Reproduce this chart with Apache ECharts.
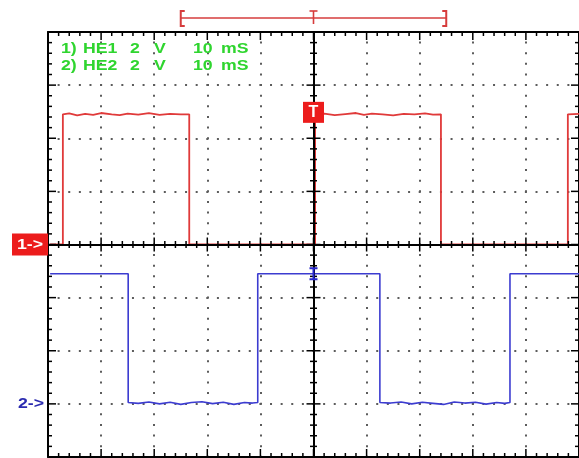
<!DOCTYPE html>
<html>
<head>
<meta charset="utf-8">
<script src="https://cdn.jsdelivr.net/npm/echarts@6/dist/echarts.min.js"></script>
<style>
  html, body { margin: 0; padding: 0; background: #ffffff; }
  #scope { width: 579px; height: 458px; }
</style>
</head>
<body>
<div id="scope"></div>
<script>
// Time base: milliseconds relative to the trigger point, 10 divisions of 10 ms
const timeWindow = [-50, 50];
const timePerDiv = 10;
// Vertical scale: 2 V per division, 8 divisions
const ch1Range = [-8, 8];      // channel 1 reference at screen centre
const ch2Range = [-2, 14];     // channel 2 reference one division above the bottom
const voltsPerDiv = 2;
const subDivisions = 5;

// Channel 1 (HE1) trace
const ch1Time = [-49.6, -47.2, -47.2, -46, -44.5, -43, -41.5, -40, -38, -36.5, -35, -33, -31, -29, -27, -25, -23.4, -23.4,
                 0.3, 0.3, 2, 4, 6, 8, 9.5, 11, 13, 15, 17, 19, 21, 22.5, 24.0, 24.0, 47.9, 47.9, 50];
const ch1Volt = [0, 0, 4.9, 4.94, 4.86, 4.92, 4.88, 4.95, 4.9, 4.87, 4.93, 4.89, 4.95, 4.88, 4.92, 4.9, 4.9, 0,
                 0, 4.9, 4.93, 4.87, 4.91, 4.95, 4.88, 4.93, 4.9, 4.86, 4.92, 4.9, 4.94, 4.89, 4.9, 0, 0, 4.9, 4.92];

// Channel 2 (HE2) trace
const ch2Time = [-49.6, -34.9, -34.9, -33, -31, -29, -27, -25, -23, -21, -19, -17, -15, -13, -11.5, -10.5, -10.5,
                 12.5, 12.5, 14.5, 16.5, 18.5, 20.5, 22.5, 24.5, 26.5, 28.5, 30.5, 32.5, 34.5, 36, 37.0, 37.0, 50];
const ch2Volt = [4.9, 4.9, 0.05, 0.02, 0.07, 0.0, 0.06, -0.02, 0.05, 0.08, 0.01, 0.06, -0.02, 0.05, 0.03, 0.05, 4.9,
                 4.9, 0.05, 0.03, 0.07, 0.0, 0.06, 0.02, -0.02, 0.07, 0.03, 0.06, -0.01, 0.05, 0.02, 0.05, 4.9, 4.9];

// Channel header rows: probe, name, V/div, unit, ms/div, unit
const channelRows = [
  ['1)', 'HE1', '2', 'V', '10', 'mS'],
  ['2)', 'HE2', '2', 'V', '10', 'mS']
];
const triggerTime = 0;
const triggerLevel = 4.9;
const ch2MarkLevel = 4.9;
const memoryWindow = [-25, 25];

const zip = (a, b) => a.map((v, i) => [v, b[i]]);

const BLACK = '#000000';
const DOTS = '#5c5c5c';
const RED = '#e03a3a';
const RED_BOX = '#ec1c1c';
const BLUE = '#3c3cd0';
const GREEN = '#2fd52f';
const FONT = '"Liberation Sans", Arial, sans-serif';

// Graticule tick marks: [direction (0 = time, 1 = volts), position, isMajor]
const tickMarks = [];
const xSteps = (timeWindow[1] - timeWindow[0]) / timePerDiv * subDivisions;
for (let i = 0; i <= xSteps; i++) {
  tickMarks.push([0, timeWindow[0] + i * timePerDiv / subDivisions, i % subDivisions === 0 ? 1 : 0]);
}
const ySteps = (ch1Range[1] - ch1Range[0]) / voltsPerDiv * subDivisions;
for (let i = 0; i <= ySteps; i++) {
  tickMarks.push([1, ch1Range[0] + i * voltsPerDiv / subDivisions, i % subDivisions === 0 ? 1 : 0]);
}

const chart = echarts.init(document.getElementById('scope'), null, { renderer: 'canvas' });

// Dotted graticule: one dot at every minor division
const divPx = 531 / 10;
const dotStyle = { color: DOTS, width: 2, type: [2, divPx / 5 - 2], dashOffset: 1 };

function lineAxis(range, interval, position, extra) {
  return Object.assign({
    type: 'value', min: range[0], max: range[1], interval: interval, position: position,
    axisLine: { show: true, onZero: false, lineStyle: { color: BLACK, width: 2 } },
    axisTick: { show: false }, minorTick: { show: false },
    axisLabel: { show: false },
    splitLine: { show: false }
  }, extra || {});
}

// Frame-edge and centre cross-hair ticks as thin filled bars, placed through the grid's scales
function renderTicks(params, api) {
  const cs = params.coordSys;
  const dir = api.value(0), pos = api.value(1), major = api.value(2) === 1;
  const frameLen = major ? 8 : 4;
  const midLen = major ? 7 : 3.5;
  const w = 1.5;
  const centre = api.coord([0, 0]);
  const bar = (x, y, width, height) => ({
    type: 'rect', silent: true, shape: { x: x, y: y, width: width, height: height }, style: { fill: BLACK }
  });
  const kids = [];
  if (dir === 0) {
    const x = api.coord([pos, 0])[0];
    kids.push(bar(x - w / 2, cs.y, w, frameLen));
    kids.push(bar(x - w / 2, cs.y + cs.height - frameLen, w, frameLen));
    kids.push(bar(x - w / 2, centre[1] - midLen, w, midLen * 2));
  } else {
    const y = api.coord([0, pos])[1];
    kids.push(bar(cs.x, y - w / 2, frameLen, w));
    kids.push(bar(cs.x + cs.width - frameLen, y - w / 2, frameLen, w));
    kids.push(bar(centre[0] - midLen, y - w / 2, midLen * 2, w));
  }
  return { type: 'group', children: kids };
}

const option = {
  animation: false,
  backgroundColor: '#ffffff',
  grid: { left: 48, top: 32, width: 531, height: 425, containLabel: false, outerBoundsMode: 'none' },
  xAxis: [
    lineAxis(timeWindow, timePerDiv, 'bottom', { splitLine: { show: true, lineStyle: dotStyle } }),
    lineAxis(timeWindow, timePerDiv, 'top'),
    lineAxis(timeWindow, timePerDiv, 'bottom', {
      z: 3, axisLine: { show: true, onZero: true, onZeroAxisIndex: 0, lineStyle: { color: BLACK, width: 2 } }
    })
  ],
  yAxis: [
    lineAxis(ch1Range, voltsPerDiv, 'left', { splitLine: { show: true, lineStyle: dotStyle } }),
    { type: 'value', min: ch2Range[0], max: ch2Range[1], interval: voltsPerDiv, show: false },
    lineAxis(ch1Range, voltsPerDiv, 'right'),
    lineAxis(ch1Range, voltsPerDiv, 'left', {
      z: 3, axisLine: { show: true, onZero: true, onZeroAxisIndex: 0, lineStyle: { color: BLACK, width: 2 } }
    })
  ],
  series: [
    {
      name: 'graticule', type: 'custom', xAxisIndex: 0, yAxisIndex: 0, z: 3, silent: true,
      renderItem: renderTicks, data: tickMarks, clip: false
    },
    {
      name: 'HE1', type: 'line', xAxisIndex: 0, yAxisIndex: 0,
      data: zip(ch1Time, ch1Volt),
      symbol: 'none', showSymbol: false, z: 2,
      lineStyle: { color: RED, width: 1.8 },
      markPoint: {
        symbol: 'rect', symbolSize: [21, 21], symbolOffset: [0, -2], z: 6,
        itemStyle: { color: RED_BOX },
        label: { show: true, formatter: 'T', color: '#ffffff', fontWeight: 'bold', fontSize: 16, fontFamily: FONT },
        data: [{ coord: [triggerTime, triggerLevel] }]
      }
    },
    {
      name: 'HE2', type: 'line', xAxisIndex: 0, yAxisIndex: 1,
      data: zip(ch2Time, ch2Volt),
      symbol: 'none', showSymbol: false, z: 2,
      lineStyle: { color: BLUE, width: 1.6 },
      markPoint: {
        symbol: 'path://M0,0 L8,0 L8,2 L5,2 L5,11 L8,11 L8,13 L0,13 L0,11 L3,11 L3,2 L0,2 Z',
        symbolSize: [8, 13], z: 6,
        itemStyle: { color: '#2626cc' },
        label: { show: false },
        data: [{ coord: [triggerTime, ch2MarkLevel] }]
      }
    }
  ]
};
chart.setOption(option);

// Overlay: channel header text, reference markers and the memory-window bracket
function label(str, x, y, color, align) {
  return {
    type: 'text', x: x, y: y, scaleX: 1.18, silent: true, z: 10,
    style: {
      text: str, x: 0, y: 0, fill: color,
      font: 'bold 15px ' + FONT,
      textAlign: align || 'left', align: align || 'left',
      textVerticalAlign: 'middle', verticalAlign: 'middle'
    }
  };
}

const colX = [61, 83, 130, 154, 193, 221];
const rowY = [49, 66];
const elements = [];
channelRows.forEach((row, r) => {
  row.forEach((s, c) => elements.push(label(s, colX[c], rowY[r], GREEN)));
});

const y1 = chart.convertToPixel({ yAxisIndex: 0 }, 0);
const y2 = chart.convertToPixel({ yAxisIndex: 1 }, 0);
elements.push({ type: 'rect', silent: true, z: 10, shape: { x: 12, y: y1 - 11, width: 36, height: 22 }, style: { fill: RED_BOX } });
elements.push(label('1->', 30, y1, '#ffffff', 'center'));
elements.push(label('2->', 44, y2, '#2b2bb0', 'right'));

const xL = chart.convertToPixel({ xAxisIndex: 0 }, memoryWindow[0]);
const xR = chart.convertToPixel({ xAxisIndex: 0 }, memoryWindow[1]);
const xT = chart.convertToPixel({ xAxisIndex: 0 }, triggerTime);
const bracket = { stroke: '#d63c3c', lineWidth: 1.6, fill: null };
const bracketBold = Object.assign({}, bracket, { lineWidth: 2 });
const seg = (shape, style) => ({ type: 'line', silent: true, shape: shape, style: style });
const poly = (points) => ({ type: 'polyline', silent: true, shape: { points: points }, style: bracketBold });
elements.push(seg({ x1: xL, y1: 18, x2: xR, y2: 18 }, bracket));
elements.push(poly([[xL + 4, 11], [xL, 11], [xL, 26], [xL + 4, 26]]));
elements.push(poly([[xR - 4, 11], [xR, 11], [xR, 26], [xR - 4, 26]]));
elements.push(seg({ x1: xT - 4, y1: 11, x2: xT + 4, y2: 11 }, bracket));
elements.push(seg({ x1: xT, y1: 11, x2: xT, y2: 24 }, bracket));

chart.setOption({ graphic: elements });
</script>
</body>
</html>
